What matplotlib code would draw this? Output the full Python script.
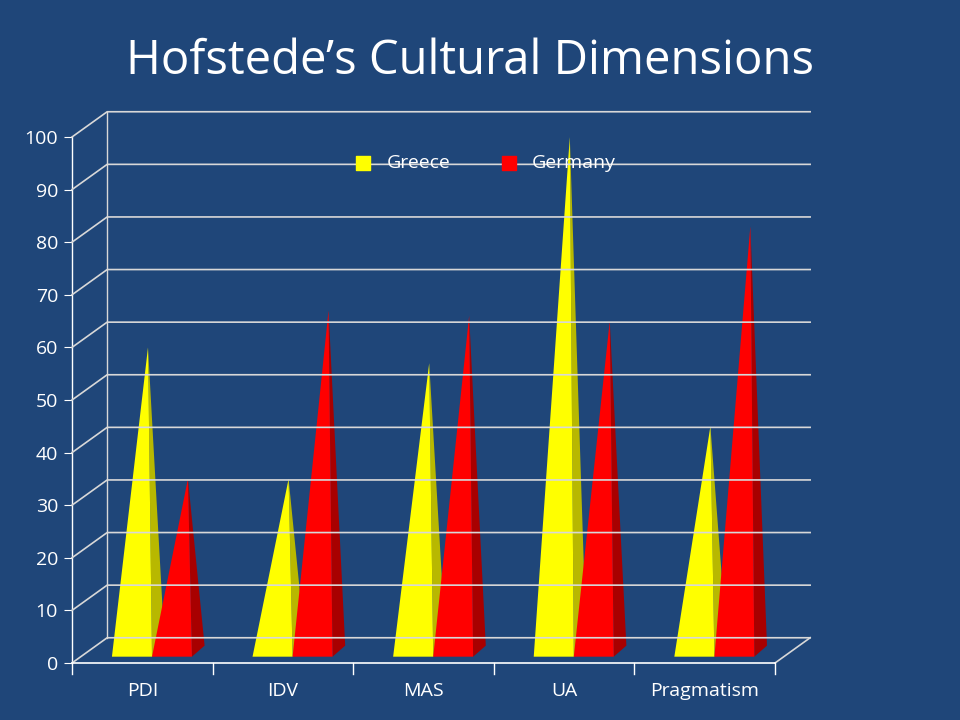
import matplotlib
matplotlib.use("Agg")
import matplotlib.pyplot as plt
from matplotlib.patches import Polygon

categories = ["PDI", "IDV", "MAS", "UA", "Pragmatism"]
greece = [60, 35, 57, 100, 45]
germany = [35, 67, 66, 65, 83]
yticks = [0, 10, 20, 30, 40, 50, 60, 70, 80, 90, 100]

BG = "#1f4679"
fig = plt.figure(figsize=(9.6, 7.2), dpi=100)
fig.patch.set_facecolor(BG)
ax = fig.add_axes([72/960, 57/720, 703/960, 526/720])
ax.set_facecolor("none")
ax.set_xlim(-0.5, 4.5)
ax.set_ylim(0, 100)
DX, DY = 0.25, 4.8

for s in ax.spines.values():
    s.set_visible(False)
ax.plot([-0.5, -0.5], [0, 100], color="white", lw=1, clip_on=False)
# back wall gridlines
for v in yticks:
    ax.plot([-0.5, -0.5 + DX, 4.5 + DX], [v, v + DY, v + DY], color="#d8d8d8", lw=1.2, clip_on=False)
ax.plot([4.5, 4.5 + DX], [0, DY], color="#d8d8d8", lw=1.2, clip_on=False)
ax.plot([-0.5, 4.5], [0, 0], color="white", lw=1.2, clip_on=False)
ax.plot([-0.5 + DX, -0.5 + DX], [DY, 100 + DY], color="#d8d8d8", lw=1, clip_on=False)

def pyramid(x0, x1, h, c_front, c_side):
    apex = (x0 + (x1 - x0) * 0.9, h)
    ax.add_patch(Polygon([(x1, 1.2), (x1 + 0.09, 3.3), apex], closed=True, fc=c_side, ec="none", clip_on=False))
    ax.add_patch(Polygon([(x0, 1.2), (x1, 1.2), apex], closed=True, fc=c_front, ec="none", clip_on=False))

for i, (g, d) in enumerate(zip(greece, germany)):
    pyramid(i - 0.216, i + 0.069, g, "#ffff00", "#b8b800")
    pyramid(i + 0.069, i + 0.353, d, "#ff0000", "#a80000")

ax.set_xticks(range(len(categories)))
ax.set_xticklabels(categories, color="white", fontsize=14, family="Open Sans")
ax.set_yticks(yticks)
ax.set_yticklabels([str(v) for v in yticks], color="white", fontsize=14, family="Open Sans")
ax.tick_params(axis="y", length=6, color="white", pad=4)
ax.tick_params(axis="x", length=0, pad=14)
for xb in [-0.5, 0.5, 1.5, 2.5, 3.5, 4.5]:
    ax.plot([xb, xb], [0, -2], color="white", lw=1, clip_on=False)

fig.text(0.49, 0.915, "Hofstede\u2019s Cultural Dimensions", color="white", fontsize=34,
         family="Open Sans", ha="center", va="center")
ax.scatter([], [], marker="s", color="#ffff00", s=90, label="Greece")
ax.scatter([], [], marker="s", color="#ff0000", s=90, label="Germany")
leg = ax.legend(loc="upper center", bbox_to_anchor=(0.58, 1.0), ncol=2, frameon=False,
                prop={"family": "Open Sans", "size": 14}, handletextpad=0.2, columnspacing=2)
for t in leg.get_texts():
    t.set_color("white")

fig.savefig("out.png", facecolor=BG)
